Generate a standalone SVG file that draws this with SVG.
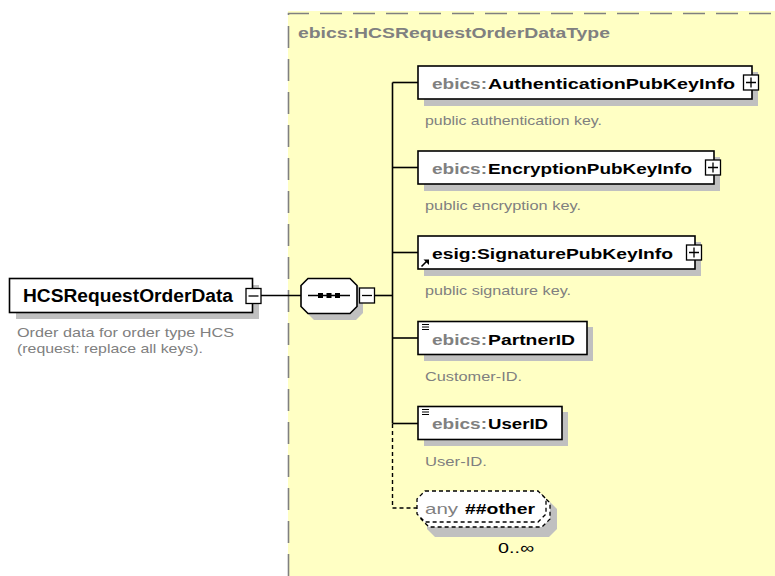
<svg xmlns="http://www.w3.org/2000/svg" width="775" height="576" viewBox="0 0 775 576">
<defs>
<style>
.box{fill:#fff;stroke:#000;stroke-width:1.6}
.shadow{fill:#c0c0c0;stroke:none}
.pm{fill:#fff;stroke:#000;stroke-width:1.3}
.pmline{stroke:#000;stroke-width:1.3;fill:none}
.conn{stroke:#000;stroke-width:1.6;fill:none}
.dconn{stroke:#000;stroke-width:1.4;fill:none;stroke-dasharray:4,3}
.name{font-family:"Liberation Sans",Arial,sans-serif;font-weight:bold;font-size:15px;fill:#000}
.pre{font-family:"Liberation Sans",Arial,sans-serif;font-weight:bold;font-size:15px;fill:#808080}
.desc{font-family:"Liberation Sans",Arial,sans-serif;font-size:13.5px;fill:#808080}
.title{font-family:"Liberation Sans",Arial,sans-serif;font-weight:bold;font-size:14.5px;fill:#808080}
</style>
</defs>
<rect x="0" y="0" width="775" height="576" fill="#fff"/>
<g id="complexType">
<rect x="288" y="11" width="490" height="565" fill="#ffffc4"/>
<path d="M288.5,576 V13.5 H778" fill="none" stroke="#808080" stroke-width="1.6" stroke-dasharray="22,11"/>
<text class="title" x="298" y="37.5" textLength="312" lengthAdjust="spacingAndGlyphs">ebics:HCSRequestOrderDataType</text>
</g>
<g id="connectors">
<line class="conn" x1="261" y1="295.5" x2="301" y2="295.5"/>
<line class="conn" x1="375" y1="295.5" x2="392.5" y2="295.5"/>
<line class="conn" x1="392.5" y1="82.5" x2="392.5" y2="423.5"/>
<line class="conn" x1="392.5" y1="82.5" x2="418" y2="82.5"/>
<line class="conn" x1="392.5" y1="167.5" x2="418" y2="167.5"/>
<line class="conn" x1="392.5" y1="252.5" x2="418" y2="252.5"/>
<line class="conn" x1="392.5" y1="338" x2="418" y2="338"/>
<line class="conn" x1="392.5" y1="423.5" x2="418" y2="423.5"/>
<path class="dconn" d="M392.5,424 V508 H417"/>
</g>
<g id="HCSRequestOrderData">
<rect class="shadow" x="16" y="285" width="243" height="34"/>
<rect class="box" x="9.5" y="278.5" width="243" height="34"/>
<text class="name" x="23" y="302" textLength="210" lengthAdjust="spacingAndGlyphs" style="font-size:18px">HCSRequestOrderData</text>
<rect class="pm" x="246" y="288.5" width="15" height="15"/>
<line class="pmline" x1="248.5" y1="296" x2="258.5" y2="296"/>
<text class="desc" x="17" y="337" textLength="217" lengthAdjust="spacingAndGlyphs">Order data for order type HCS</text>
<text class="desc" x="17" y="353" textLength="186" lengthAdjust="spacingAndGlyphs">(request: replace all keys).</text>
</g>
<g id="sequence">
<path class="shadow" d="M314,284 H356 L363,291 V313 L356,320 H314 L307,313 V291 Z"/>
<path class="box" d="M308,278.5 H350 L357,285.5 V306.5 L350,313.5 H308 L301,306.5 V285.5 Z"/>
<line x1="308" y1="295.5" x2="350" y2="295.5" stroke="#000" stroke-width="1.3"/>
<rect x="318" y="293" width="5" height="5" fill="#000"/>
<rect x="326.5" y="293" width="5" height="5" fill="#000"/>
<rect x="335" y="293" width="5" height="5" fill="#000"/>
<rect class="pm" x="359.5" y="288" width="15" height="15"/>
<line class="pmline" x1="362" y1="295.5" x2="372" y2="295.5"/>
</g>
<g id="AuthenticationPubKeyInfo">
<rect class="shadow" x="424" y="72" width="334" height="34"/>
<rect class="box" x="418" y="66" width="334" height="33"/>
<text class="pre" x="432" y="88.5" textLength="55" lengthAdjust="spacingAndGlyphs">ebics:</text>
<text class="name" x="488" y="88.5" textLength="247" lengthAdjust="spacingAndGlyphs">AuthenticationPubKeyInfo</text>
<rect class="pm" x="743.5" y="75" width="15" height="15"/>
<path class="pmline" d="M746,82.5 H756 M751,77.5 V87.5"/>
<text class="desc" x="425" y="125" textLength="177" lengthAdjust="spacingAndGlyphs">public authentication key.</text>
</g>
<g id="EncryptionPubKeyInfo">
<rect class="shadow" x="424" y="157" width="296" height="34"/>
<rect class="box" x="418" y="151" width="296" height="33"/>
<text class="pre" x="432" y="173.5" textLength="55" lengthAdjust="spacingAndGlyphs">ebics:</text>
<text class="name" x="488" y="173.5" textLength="204" lengthAdjust="spacingAndGlyphs">EncryptionPubKeyInfo</text>
<rect class="pm" x="705.5" y="160" width="15" height="15"/>
<path class="pmline" d="M708,167.5 H718 M713,162.5 V172.5"/>
<text class="desc" x="425" y="210" textLength="156" lengthAdjust="spacingAndGlyphs">public encryption key.</text>
</g>
<g id="SignaturePubKeyInfo">
<rect class="shadow" x="424" y="242" width="277" height="34"/>
<rect class="box" x="418" y="236" width="277" height="33"/>
<text class="name" x="432" y="258.5" textLength="241" lengthAdjust="spacingAndGlyphs">esig:SignaturePubKeyInfo</text>
<path d="M421.5,266.5 L427,261" stroke="#000" stroke-width="1.6"/>
<path d="M423.5,259.5 H429 V265 Z" fill="#000"/>
<rect class="pm" x="686.5" y="245" width="15" height="15"/>
<path class="pmline" d="M689,252.5 H699 M694,247.5 V257.5"/>
<text class="desc" x="425" y="295" textLength="146" lengthAdjust="spacingAndGlyphs">public signature key.</text>
</g>
<g id="PartnerID">
<rect class="shadow" x="424" y="327" width="169" height="34"/>
<rect class="box" x="418" y="321.5" width="169" height="33"/>
<path d="M422,324.5 H429 M422,327 H429 M422,329.5 H429" stroke="#000" stroke-width="1"/>
<text class="pre" x="432" y="344.5" textLength="55" lengthAdjust="spacingAndGlyphs">ebics:</text>
<text class="name" x="488" y="344.5" textLength="87" lengthAdjust="spacingAndGlyphs">PartnerID</text>
<text class="desc" x="425" y="381" textLength="97" lengthAdjust="spacingAndGlyphs">Customer-ID.</text>
</g>
<g id="UserID">
<rect class="shadow" x="424" y="412" width="144" height="34"/>
<rect class="box" x="418" y="406.5" width="144" height="33"/>
<path d="M422,409.5 H429 M422,412 H429 M422,414.5 H429" stroke="#000" stroke-width="1"/>
<text class="pre" x="432" y="429" textLength="55" lengthAdjust="spacingAndGlyphs">ebics:</text>
<text class="name" x="488" y="429" textLength="60" lengthAdjust="spacingAndGlyphs">UserID</text>
<text class="desc" x="425" y="466" textLength="62" lengthAdjust="spacingAndGlyphs">User-ID.</text>
</g>
<g id="anyOther">
<path class="shadow" d="M435,501 H549 L557,509 V529 L549,537 H435 L427,529 V509 Z"/>
<path d="M429,495 H542 L550,503 V519 L542,527 H429 L421,519 V503 Z" fill="#fff" stroke="#000" stroke-width="1.3" stroke-dasharray="4,3"/>
<path d="M425,491 H538 L546,499 V514 L538,522 H425 L417,514 V499 Z" fill="#fff" stroke="#000" stroke-width="1.3" stroke-dasharray="4,3"/>
<text class="desc" x="425" y="514" style="font-size:15px" textLength="33" lengthAdjust="spacingAndGlyphs">any</text>
<text class="name" x="465" y="514" textLength="70" lengthAdjust="spacingAndGlyphs">##other</text>
<text x="498" y="553" font-family="'Liberation Sans',Arial,sans-serif" font-size="15" fill="#000" textLength="36" lengthAdjust="spacingAndGlyphs">0..∞</text>
</g>
</svg>
